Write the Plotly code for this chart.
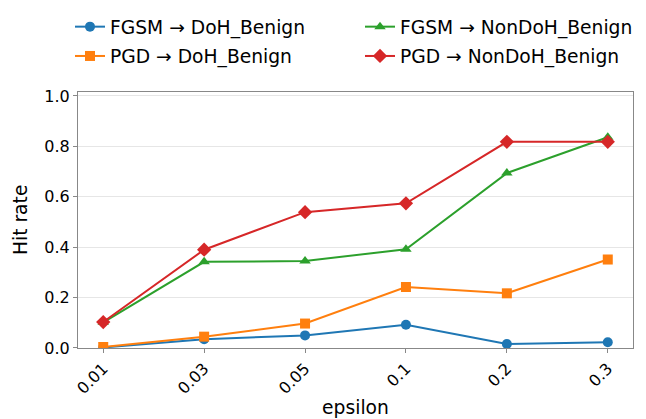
import plotly.graph_objects as go

epsilons = ["0.01", "0.03", "0.05", "0.1", "0.2", "0.3"]
fgsm_doh = [0.002, 0.035, 0.050, 0.092, 0.016, 0.023]
pgd_doh = [0.004, 0.045, 0.097, 0.242, 0.217, 0.351]
fgsm_nondoh = [0.102, 0.342, 0.345, 0.392, 0.694, 0.836]
pgd_nondoh = [0.103, 0.390, 0.539, 0.574, 0.818, 0.818]

series = [
    ("FGSM → DoH_Benign", fgsm_doh, "#1f77b4", "circle", "legend", "g1"),
    ("PGD → DoH_Benign", pgd_doh, "#ff7f0e", "square", "legend", "g2"),
    ("FGSM → NonDoH_Benign", fgsm_nondoh, "#2ca02c", "triangle-up", "legend2", "g3"),
    ("PGD → NonDoH_Benign", pgd_nondoh, "#d62728", "diamond", "legend2", "g4"),
]

fig = go.Figure()
for name, vals, color, sym, leg, grp in series:
    fig.add_trace(go.Scatter(
        x=list(range(len(epsilons))), y=vals, name=name, mode="lines+markers",
        line=dict(color=color, width=2),
        marker=dict(symbol=sym, size=10 if sym != "diamond" else 11, color=color),
        legend=leg, legendgroup=grp,
    ))

font = "DejaVu Sans, sans-serif"
axcol = "#888888"
L, R, T, B = 70, 21, 63, 69
plot_w = 646 - L - R
legcommon = dict(orientation="v", xref="paper", xanchor="left",
                 yref="container", yanchor="top", y=1.0,
                 font=dict(size=18.7), tracegroupgap=2,
                 bgcolor="rgba(0,0,0,0)")
fig.update_layout(
    width=646, height=419,
    margin=dict(l=L, r=R, t=T, b=B),
    plot_bgcolor="white", paper_bgcolor="white",
    font=dict(family=font, size=18.7, color="black"),
    legend=dict(x=(62 - L) / plot_w, **legcommon),
    legend2=dict(x=(352 - L) / plot_w, **legcommon),
    showlegend=True,
)
fig.update_xaxes(
    tickmode="array", tickvals=list(range(len(epsilons))), ticktext=epsilons,
    range=[-0.25, 5.25], tickangle=-45, showgrid=False, zeroline=False,
    showline=True, linecolor=axcol, linewidth=1, mirror=True,
    ticks="outside", ticklen=4, tickcolor=axcol,
    tickfont=dict(size=16), title=dict(text="epsilon", font=dict(size=18.7), standoff=4),
)
fig.update_yaxes(
    range=[0, 1.017], tickvals=[0, 0.2, 0.4, 0.6, 0.8, 1.0],
    ticktext=["0.0", "0.2", "0.4", "0.6", "0.8", "1.0"],
    showgrid=True, gridcolor="#e6e6e6", gridwidth=1, zeroline=False,
    showline=True, linecolor=axcol, linewidth=1, mirror=True,
    ticks="outside", ticklen=4, tickcolor=axcol,
    tickfont=dict(size=16), title=dict(text="Hit rate", font=dict(size=18.7), standoff=11),
)
fig.write_html("out.html")
